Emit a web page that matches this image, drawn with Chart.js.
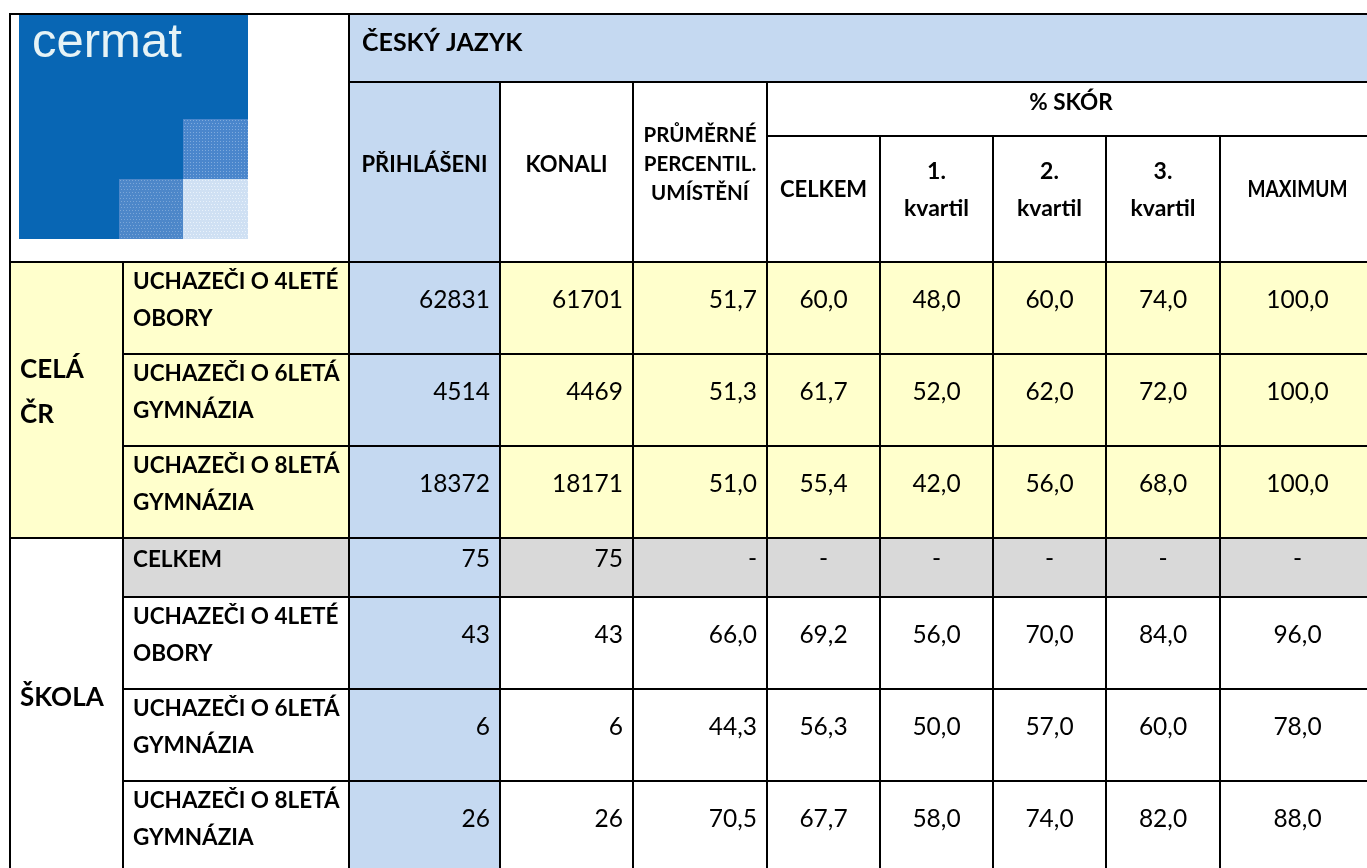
<!DOCTYPE html>
<html>
<head>
<meta charset="utf-8">
<title>Český jazyk - výsledky</title>
<script src="https://cdn.jsdelivr.net/npm/chart.js@4.4.1/dist/chart.umd.min.js"></script>
<style>
  html, body { margin: 0; padding: 0; background: #fff; }
  canvas { display: block; }
</style>
</head>
<body>
<canvas id="tableChart" width="1367" height="868"></canvas>
<script>
// --- data ---
const subject = 'ČESKÝ JAZYK';
const groups = ['CELÁ\nČR', 'ŠKOLA'];
const groupSizes = [3, 4];
const categories = [
  'UCHAZEČI O 4LETÉ\nOBORY',
  'UCHAZEČI O 6LETÁ\nGYMNÁZIA',
  'UCHAZEČI O 8LETÁ\nGYMNÁZIA',
  'CELKEM',
  'UCHAZEČI O 4LETÉ\nOBORY',
  'UCHAZEČI O 6LETÁ\nGYMNÁZIA',
  'UCHAZEČI O 8LETÁ\nGYMNÁZIA'
];
const columnHeaders = ['PŘIHLÁŠENI', 'KONALI', 'PRŮMĚRNÉ\nPERCENTIL.\nUMÍSTĚNÍ'];
const scoreHeader = '% SKÓR';
const scoreColumns = ['CELKEM', '1.\nkvartil', '2.\nkvartil', '3.\nkvartil', 'MAXIMUM'];

const prihlaseni = [62831, 4514, 18372, 75, 43, 6, 26];
const konali     = [61701, 4469, 18171, 75, 43, 6, 26];
const percentil  = [51.7, 51.3, 51.0, null, 66.0, 44.3, 70.5];
const celkem     = [60.0, 61.7, 55.4, null, 69.2, 56.3, 67.7];
const kvartil1   = [48.0, 52.0, 42.0, null, 56.0, 50.0, 58.0];
const kvartil2   = [60.0, 62.0, 56.0, null, 70.0, 57.0, 74.0];
const kvartil3   = [74.0, 72.0, 68.0, null, 84.0, 60.0, 82.0];
const maximum    = [100.0, 100.0, 100.0, null, 96.0, 78.0, 88.0];

// --- layout (scale units) ---
const colEdges = [10, 123, 349, 500, 633, 767, 880, 993, 1106, 1220, 1375];
const rowEdges = [14, 82, 136, 262, 354, 446, 538, 597, 689, 781, 873];
const BODY = 3; // first body row edge index

const BLUE = '#c5d9f1';
const YELLOW = '#ffffcc';
const GREY = '#d9d9d9';
const FONT = 'Lato, "Open Sans", sans-serif';

const fmtInt = v => String(v);
const fmtDec = v => v === null ? '-' : v.toFixed(1).replace('.', ',');

const valueColumns = [
  { values: prihlaseni, fmt: fmtInt, align: 'right' },
  { values: konali, fmt: fmtInt, align: 'right' },
  { values: percentil, fmt: fmtDec, align: 'right' },
  { values: celkem, fmt: fmtDec, align: 'center' },
  { values: kvartil1, fmt: fmtDec, align: 'center' },
  { values: kvartil2, fmt: fmtDec, align: 'center' },
  { values: kvartil3, fmt: fmtDec, align: 'center' },
  { values: maximum, fmt: fmtDec, align: 'center' }
];

function drawText(ctx, text, x, yMid, align, weight, size, gap, maxW) {
  const lines = text.split('\n');
  ctx.font = weight + ' ' + size + 'px ' + FONT;
  ctx.textAlign = align;
  ctx.textBaseline = 'alphabetic';
  ctx.fillStyle = '#000';
  const cap = size * 0.72;
  const total = (lines.length - 1) * gap;
  lines.forEach((ln, i) => {
    const y = yMid - total / 2 + i * gap + cap / 2;
    if (maxW) ctx.fillText(ln, x, y, maxW);
    else ctx.fillText(ln, x, y);
  });
}

function dotted(ctx, x0, y0, x1, y1, base, dot) {
  ctx.fillStyle = base;
  ctx.fillRect(x0, y0, x1 - x0, y1 - y0);
  ctx.fillStyle = dot;
  for (let y = y0 + 1; y < y1; y += 3) {
    for (let x = x0 + ((y - y0) % 2 ? 1 : 2); x < x1; x += 3) {
      ctx.fillRect(x, y, 1, 1);
    }
  }
}

const tablePlugin = {
  id: 'tablePlugin',
  beforeDatasetsDraw(chart) {
    const ctx = chart.ctx;
    const X = v => chart.scales.x.getPixelForValue(v);
    const Y = v => chart.scales.y.getPixelForValue(v);
    const cx = (a, b) => (X(colEdges[a]) + X(colEdges[b])) / 2;
    const cy = (a, b) => (Y(rowEdges[a]) + Y(rowEdges[b])) / 2;
    const fill = (c0, c1, r0, r1, color) => {
      ctx.fillStyle = color;
      ctx.fillRect(X(colEdges[c0]), Y(rowEdges[r0]), X(colEdges[c1]) - X(colEdges[c0]), Y(rowEdges[r1]) - Y(rowEdges[r0]));
    };
    const last = colEdges.length - 1;

    ctx.save();
    // backgrounds
    fill(2, last, 0, 1, BLUE);
    let r = 0;
    groups.forEach((g, gi) => {
      const r0 = BODY + r, r1 = BODY + r + groupSizes[gi];
      if (gi === 0) fill(0, 1, r0, r1, YELLOW);
      for (let k = 0; k < groupSizes[gi]; k++) {
        const row = r + k;
        const color = gi === 0 ? YELLOW : (categories[row] === 'CELKEM' ? GREY : null);
        if (color) fill(1, last, BODY + row, BODY + row + 1, color);
      }
      r += groupSizes[gi];
    });
    fill(2, 3, 1, rowEdges.length - 1, BLUE);

    // logo
    const lx0 = X(19), ly0 = Y(14), lx1 = X(248), ly1 = Y(239);
    ctx.fillStyle = '#0866b4';
    ctx.fillRect(lx0, ly0, lx1 - lx0, ly1 - ly0);
    dotted(ctx, X(183), Y(119), lx1, Y(179), '#4a86cc', '#7eaadd');
    dotted(ctx, X(119), Y(179), X(183), ly1, '#4d87c9', '#7aa6d8');
    dotted(ctx, X(183), Y(179), lx1, ly1, '#cfe0f3', '#e9f2fb');
    ctx.font = '49px "Liberation Sans", Arial, sans-serif';
    ctx.fillStyle = '#e6f3f6';
    ctx.textAlign = 'left';
    ctx.textBaseline = 'alphabetic';
    ctx.fillText('cermat', X(32), Y(57));

    // borders
    ctx.strokeStyle = '#000';
    ctx.lineWidth = 2;
    const h = (y, c0, c1) => { ctx.beginPath(); ctx.moveTo(X(colEdges[c0]) - 1, Y(rowEdges[y])); ctx.lineTo(X(colEdges[c1]) + 1, Y(rowEdges[y])); ctx.stroke(); };
    const v = (c, r0, r1) => { ctx.beginPath(); ctx.moveTo(X(colEdges[c]), Y(rowEdges[r0]) - 1); ctx.lineTo(X(colEdges[c]), Y(rowEdges[r1]) + 1); ctx.stroke(); };
    const lastRow = rowEdges.length - 1;
    h(0, 0, last);
    h(1, 2, last);
    h(2, 5, last);
    h(3, 0, last);
    r = 0;
    groups.forEach((g, gi) => {
      for (let k = 1; k < groupSizes[gi]; k++) h(BODY + r + k, 1, last);
      r += groupSizes[gi];
      h(BODY + r, 0, last);
    });
    v(0, 0, lastRow);
    v(1, 3, lastRow);
    v(2, 0, lastRow);
    v(3, 1, lastRow);
    v(4, 1, lastRow);
    v(5, 1, lastRow);
    for (let c = 6; c < last; c++) v(c, 2, lastRow);

    // header texts
    drawText(ctx, subject, X(362), cy(0, 1) - 6, 'left', 'bold', 25, 0);
    columnHeaders.forEach((t, i) => {
      const size = i === 2 ? 20.5 : 22;
      drawText(ctx, t, cx(2 + i, 3 + i), cy(1, 3) - 8, 'center', 'bold', size, 29);
    });
    drawText(ctx, scoreHeader, cx(5, last), cy(1, 2) - 7, 'center', 'bold', 22.5, 0);
    scoreColumns.forEach((t, i) => {
      const isMax = i === scoreColumns.length - 1;
      drawText(ctx, t, cx(5 + i, 6 + i), cy(2, 3) - 10, 'center', 'bold', i > 0 && !isMax ? 23 : 22, 37, isMax ? 100 : 0);
    });

    // group labels
    r = 0;
    groups.forEach((g, gi) => {
      drawText(ctx, g, X(20), cy(BODY + r, BODY + r + groupSizes[gi]) - 9, 'left', 'bold', 26, 45);
      r += groupSizes[gi];
    });

    // body
    categories.forEach((cat, row) => {
      const yMid = cy(BODY + row, BODY + row + 1) - 9;
      drawText(ctx, cat, X(133), yMid, 'left', 'bold', 22.5, 37);
      valueColumns.forEach((col, i) => {
        const c = 2 + i;
        const x = col.align === 'right' ? X(colEdges[c + 1]) - 10 : cx(c, c + 1);
        drawText(ctx, col.fmt(col.values[row]), x, yMid, col.align, 'normal', 24.5, 0);
      });
    });
    ctx.restore();
  }
};

new Chart(document.getElementById('tableChart'), {
  type: 'scatter',
  data: { datasets: [] },
  options: {
    responsive: false,
    animation: false,
    events: [],
    layout: { padding: 0 },
    plugins: { legend: { display: false }, tooltip: { enabled: false } },
    scales: {
      x: { type: 'linear', min: 0, max: 1367, display: false },
      y: { type: 'linear', min: 0, max: 868, reverse: true, display: false }
    }
  },
  plugins: [tablePlugin]
});
</script>
</body>
</html>
